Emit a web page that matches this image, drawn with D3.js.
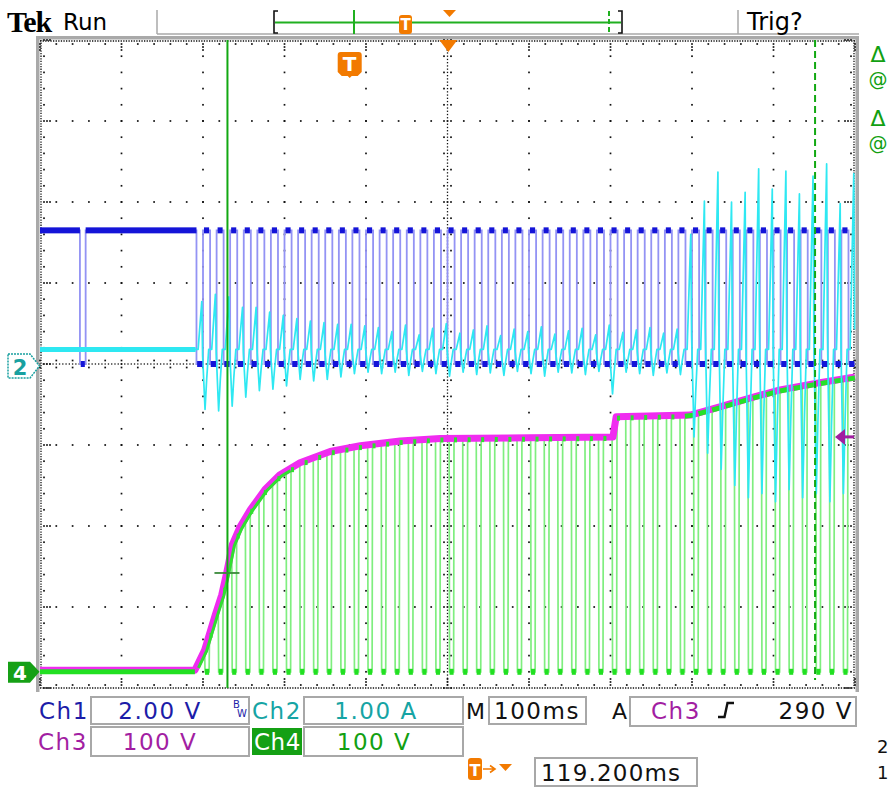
<!DOCTYPE html>
<html><head><meta charset="utf-8">
<script src="https://cdn.jsdelivr.net/npm/d3@7"></script>
<style>body{margin:0;background:#fff}svg{display:block}</style>
</head><body><svg id="c" width="891" height="789"></svg>
<script>
// ---------- DATA ----------
const timeDomain = [0, 1000];               // ms across 10 divisions (100 ms/div)
// Ch3 (DC bus envelope), volts at 100 V/div
const envT = [0, 190, 202, 215, 223, 229, 236, 245, 258, 276, 294, 319, 356, 393, 442, 491, 600, 703, 707, 798, 834, 871, 908, 957, 1000];
const envV = [2, 2, 27, 70, 95, 122, 157, 178, 200, 225, 243, 258, 272, 279, 285, 288, 289, 290, 315, 317, 327, 338, 348, 357, 364];
// switching cycle start times (ms)
const cycleT = [192, 208.7, 225.3, 242, 258.7, 275.3, 292, 308.7, 325.3, 342, 358.7, 375.3, 392, 408.7, 425.3, 442, 458.7, 475.3, 492, 508.7, 525.3, 542, 558.7, 575.3, 592, 608.7, 625.3, 642, 658.7, 675.3, 692, 708.7, 725.3, 742, 758.7, 775.3, 792, 808.7, 825.3, 842, 858.7, 875.3, 892, 908.7, 925.3, 942, 958.7, 975.3, 992];
// Ch2 current spikes per cycle (A)
const ch2Up = [0.77, 0.86, 0.83, 0.70, 0.70, 0.64, 0.60, 0.56, 0.53, 0.51, 0.49, 0.49, 0.47,
  0.45, 0.40, 0.48, 0.36, 0.44, 0.50, 0.38, 0.42, 0.47, 0.35, 0.43, 0.40, 0.46, 0.37, 0.41, 0.44, 0.36, 0.48, 0.39, 0.42, 0.45, 0.38, 0.43,
  1.6, 2.01, 2.37, 2.0, 2.12, 2.41, 2.16, 2.38, 2.1, 2.32, 2.47, 1.98, 2.35];
const ch2Down = [-0.56, -0.58, -0.52, -0.41, -0.33, -0.31, -0.27, -0.19, -0.21, -0.19, -0.16, -0.12, -0.10,
  -0.12, -0.10, -0.14, -0.09, -0.12, -0.15, -0.10, -0.13, -0.11, -0.14, -0.09, -0.12, -0.15, -0.10, -0.11, -0.13, -0.09, -0.37, -0.10, -0.12, -0.14, -0.11, -0.13,
  -0.9, -1.1, -1.3, -1.5, -1.65, -1.6, -1.7, -1.55, -1.65, -1.6, -1.7, -1.6, -1.5];
const ch2Idle = 0.18;            // A
const ch1Levels = [0, 3.3];      // V low / high
const ch1Glitch = [49, 56];      // ms, single low pulse before start
const cursorT = [230, 951];      // ms, solid / dashed cursor
const cursorMarkV = 122;         // V, cross mark on the solid cursor
const trigLevel = 290;           // V
const trigPosT = 501;            // ms, trigger position
const tMarkT = 380;              // ms, T marker
const labelsRow1 = ["Ch1", "2.00 V", "Ch2", "1.00 A", "M", "100ms", "A", "Ch3", "290 V"];
const labelsRow2 = ["Ch3", "100 V", "Ch4", "100 V"];
const delayLabel = "119.200ms";

// ---------- SCALES ----------
const svg = d3.select('#c');
const X0 = 40, X1 = 855, Y0 = 40, Y1 = 688;
const x = d3.scaleLinear().domain(timeDomain).range([X0, X1]);
const y1 = d3.scaleLinear().domain([-8, 8]).range([Y1, Y0]);      // 2 V/div
const y2 = d3.scaleLinear().domain([-4, 4]).range([Y1, Y0]);      // 1 A/div
const y34 = d3.scaleLinear().domain([-20, 780]).range([Y1, Y0]);  // 100 V/div, ground -3.8 div
const env = d3.scaleLinear().domain(envT).range(envV);
const line = d3.line().x(d => x(d[0]));

// ---------- FRAME / GRATICULE ----------
const gray = '#a9a9a9';
svg.append('rect').attr('x', 36).attr('y', 36).attr('width', 823).attr('height', 3.5).attr('fill', gray);
svg.append('rect').attr('x', 36).attr('y', 36).attr('width', 3.5).attr('height', 656).attr('fill', gray);
svg.append('rect').attr('x', 855.5).attr('y', 36).attr('width', 3.5).attr('height', 656).attr('fill', gray);
svg.append('line').attr('x1', 157).attr('x2', 859).attr('y1', 34).attr('y2', 34).attr('stroke', gray).attr('stroke-width', 1.5);
[157, 738].forEach(v => svg.append('line').attr('x1', v).attr('x2', v).attr('y1', 10).attr('y2', 34).attr('stroke', gray).attr('stroke-width', 1.5));

const g = svg.append('g');
const majX = d3.range(11).map(i => X0 + i * (X1 - X0) / 10);
const majY = d3.range(9).map(i => Y0 + i * (Y1 - Y0) / 8);
const minX = d3.range(51).map(i => X0 + i * (X1 - X0) / 50);
const minY = d3.range(41).map(i => Y0 + i * (Y1 - Y0) / 40);
const fineX = d3.range(251).map(i => X0 + i * (X1 - X0) / 250);
const fineY = d3.range(201).map(i => Y0 + i * (Y1 - Y0) / 200);
function dot(px, py, s = 1.7) { g.append('rect').attr('x', px - s / 2).attr('y', py - s / 2).attr('width', s).attr('height', s).attr('fill', '#111'); }
majX.slice(1, 10).forEach((mx, i) => { if (i === 4) return; minY.slice(1, 40).forEach(my => dot(mx, my)); });
majY.slice(1, 8).forEach((my, i) => { if (i === 3) return; minX.slice(1, 50).forEach(mx => dot(mx, my)); });
const xc = majX[5], yc = majY[4];
fineX.forEach(fx => dot(fx, yc, 1.3));
fineY.forEach(fy => dot(xc, fy, 1.3));
minX.forEach(mx => { dot(mx, yc - 3.5); dot(mx, yc + 3.5); });
minY.forEach(my => { dot(xc - 3.5, my); dot(xc + 3.5, my); });
g.append('path').attr('d', `M${X0},${Y0 + 1}H${X1}M${X0},${Y1}H${X1}M${X0 + 1},${Y0}V${Y1}M${X1 - 1},${Y0}V${Y1}`)
  .attr('stroke', '#111').attr('stroke-width', 1.3).attr('stroke-dasharray', '1.3,1.3').attr('fill', 'none');
minX.forEach((mx, i) => { dot(mx, Y0 + 4); dot(mx, Y1 - 3); if (i % 5 === 0) { dot(mx, Y0 + 7); dot(mx, Y0 + 10); dot(mx, Y1 - 6); dot(mx, Y1 - 9); } });
minY.forEach((my, i) => { dot(X0 + 4, my); dot(X1 - 4, my); if (i % 5 === 0) { dot(X0 + 7, my); dot(X0 + 10, my); dot(X1 - 7, my); dot(X1 - 10, my); } });

// ---------- WAVEFORMS ----------
const W = svg.append('g');
const envPts = envT.map((t, i) => [t, envV[i]]);

// Ch4 pulses (green) lines
const ch4Pts = [[0, 0], [cycleT[0] - 2, 0]];
envT.forEach(t => { if (t > cycleT[0] - 2 && t < cycleT[0] + 10) ch4Pts.push([t, env(t)]); });
const groundSegs = [], topSegs = [];
cycleT.forEach((t0, i) => {
  const tf = t0 + 10, tr = t0 + 15.5;
  ch4Pts.push([tf, env(tf)], [tf + 0.5, 0], [tr, 0], [tr + 0.5, env(tr + 0.5)]);
  groundSegs.push([tf + 0.5, Math.min(tr, 1000)]);
  const nf = Math.min(i + 1 < cycleT.length ? cycleT[i + 1] + 10 : 1000, 1000);
  if (tr + 0.5 < 1000) topSegs.push([tr + 0.5, nf]);
});
W.append('path').attr('d', line.y(d => y34(d[1]))(ch4Pts.filter(d => d[0] <= 1000))).attr('fill', 'none')
  .attr('stroke', '#7fee7f').attr('stroke-width', 1.7);

// Ch3 envelope band (magenta)
W.append('path').attr('d', line.y(d => y34(d[1]))(envPts)).attr('fill', 'none')
  .attr('stroke', '#f02cf0').attr('stroke-width', 7).attr('stroke-linejoin', 'round');

// green on top of the band: rise region and late region
const topLine = d3.line().x(d => x(d)).y(d => y34(env(d)) + 1);
W.append('path').attr('d', topLine([192, 196, 202, 208, 215, 223, 229, 236, 245, 258, 276, 294, 305]))
  .attr('fill', 'none').attr('stroke', '#30e030').attr('stroke-width', 3).attr('transform', 'translate(2,0)');
topSegs.filter(s => s[0] > 780).forEach(s => {
  W.append('path').attr('d', topLine([s[0], s[1]])).attr('fill', 'none').attr('stroke', '#28e028').attr('stroke-width', 5);
});
W.append('path').attr('d', line.y(d => y34(d[1]))([[0, 0], [cycleT[0] - 2, 0]])).attr('stroke', '#22e022').attr('stroke-width', 5);
W.selectAll('.gb').data(groundSegs).enter().append('rect')
  .attr('x', d => x(d[0])).attr('width', d => Math.max(0, x(d[1]) - x(d[0])))
  .attr('y', y34(0) - 3).attr('height', 6).attr('fill', '#22e022');
W.selectAll('.gt').data(topSegs.filter(s => s[0] <= 780)).enter().append('rect')
  .attr('x', d => x(d[0])).attr('width', 3).attr('y', d => y34(env(d[0])) - 1).attr('height', 5)
  .attr('fill', '#30e030');

// Ch1 square wave (blue)
const [lo, hi] = ch1Levels;
const ch1Pts = [[0, hi], [ch1Glitch[0], hi], [ch1Glitch[0], lo], [ch1Glitch[1], lo], [ch1Glitch[1], hi], [cycleT[0], hi]];
const lowSegs = [], highSegs = [[0, ch1Glitch[0]], [ch1Glitch[1], cycleT[0]]];
lowSegs.push([ch1Glitch[0] + 1, ch1Glitch[1] - 1]);
cycleT.forEach((t0, i) => {
  const te = Math.min(t0 + 8, 1000);
  ch1Pts.push([t0, hi], [t0, lo], [te, lo]);
  lowSegs.push([t0 + 0.8, te - 0.8]);
  if (te < 1000) {
    const tn = i + 1 < cycleT.length ? cycleT[i + 1] : 1000;
    ch1Pts.push([te, hi], [tn, hi]);
    highSegs.push([te + 1.2, tn - 1.2]);
  }
});
W.append('path').attr('d', line.y(d => y1(d[1]))(ch1Pts)).attr('fill', 'none')
  .attr('stroke', '#9393f4').attr('stroke-width', 1.8);

// Ch2 current (cyan)
const ch2Pts = [[0, ch2Idle]];
cycleT.forEach((t0, i) => {
  ch2Pts.push([t0 + 2, ch2Idle], [t0 + 6.5, ch2Up[i]], [t0 + 7.5, (ch2Up[i] + ch2Down[i]) / 2], [t0 + 10.5, ch2Down[i]], [t0 + 12.5, (ch2Down[i] + ch2Idle) / 2], [t0 + 15, ch2Idle]);
});
W.append('path').attr('d', line.y(d => y2(d[1]))(ch2Pts.filter(d => d[0] <= 1000))).attr('fill', 'none')
  .attr('stroke', '#2ee8f2').attr('stroke-width', 1.7).attr('stroke-linejoin', 'round');
W.append('path').attr('d', line.y(d => y2(d[1]))([[0, ch2Idle], [cycleT[0] - 1, ch2Idle]])).attr('stroke', '#2ee8f2').attr('stroke-width', 5);

// Ch1 dense sample blobs
W.selectAll('.hb').data(highSegs).enter().append('rect')
  .attr('x', d => x(d[0])).attr('width', d => Math.max(0, x(d[1]) - x(d[0])))
  .attr('y', y1(hi) - 3).attr('height', 6).attr('fill', '#1414d8');
W.selectAll('.lb').data(lowSegs).enter().append('rect')
  .attr('x', d => x(d[0])).attr('width', d => Math.max(0, x(d[1]) - x(d[0])))
  .attr('y', y1(lo) - 3).attr('height', 6).attr('fill', '#1414d8');

// ---------- CURSORS / MARKERS ----------
const cg = '#12a812';
svg.append('line').attr('x1', x(cursorT[0])).attr('x2', x(cursorT[0])).attr('y1', Y0).attr('y2', Y1).attr('stroke', cg).attr('stroke-width', 2);
svg.append('line').attr('x1', x(cursorT[1])).attr('x2', x(cursorT[1])).attr('y1', Y0).attr('y2', Y1 - 8).attr('stroke', cg).attr('stroke-width', 2).attr('stroke-dasharray', '7,4');
svg.append('line').attr('x1', x(cursorT[0]) - 13).attr('x2', x(cursorT[0]) + 12).attr('y1', y34(cursorMarkV)).attr('y2', y34(cursorMarkV)).attr('stroke', '#3a8a3a').attr('stroke-width', 1.8);

const orange = '#f27a00';
svg.append('path').attr('d', `M${x(trigPosT) - 9},${Y0}L${x(trigPosT) + 9},${Y0}L${x(trigPosT)},${Y0 + 12}Z`).attr('fill', orange);
function tMarker(cx, top, w, h, fs) {
  const gg = svg.append('g');
  gg.append('path').attr('d', `M${cx - w / 2 + 3},${top}H${cx + w / 2 - 3}Q${cx + w / 2},${top} ${cx + w / 2},${top + 3}V${top + h - 6}L${cx + w / 2 - 4},${top + h - 2}H${cx + 2}L${cx},${top + h}L${cx - 2},${top + h - 2}H${cx - w / 2 + 4}L${cx - w / 2},${top + h - 6}V${top + 3}Q${cx - w / 2},${top} ${cx - w / 2 + 3},${top}Z`).attr('fill', orange);
  gg.append('text').attr('x', cx).attr('y', top + h * 0.72).attr('text-anchor', 'middle').attr('fill', '#fff')
    .attr('font-family', 'DejaVu Sans').attr('font-weight', 'bold').attr('font-size', fs).text('T');
}
tMarker(x(tMarkT), 52, 24, 26, 20);

svg.append('path').attr('d', 'M8,354H30L39.5,366L30,378H8Z').attr('fill', '#fff').attr('stroke', '#18a0a0').attr('stroke-width', 1.5).attr('stroke-dasharray', '2,1');
svg.append('text').attr('x', 20).attr('y', 375).attr('text-anchor', 'middle').attr('fill', '#18a0a0').attr('font-family', 'DejaVu Sans').attr('font-weight', 'bold').attr('font-size', 21).text('2');
svg.append('path').attr('d', `M8,${y34(0) - 10}H30L39.5,${y34(0)}L30,${y34(0) + 11}H8Z`).attr('fill', '#16a016');
svg.append('text').attr('x', 20).attr('y', y34(0) + 8).attr('text-anchor', 'middle').attr('fill', '#fff').attr('font-family', 'DejaVu Sans').attr('font-weight', 'bold').attr('font-size', 20).text('4');
const ty = y34(trigLevel);
svg.append('path').attr('d', `M835,${ty}L845,${ty - 8}V${ty + 8}Z`).attr('fill', '#a01ea0');
svg.append('line').attr('x1', 844).attr('x2', 854).attr('y1', ty).attr('y2', ty).attr('stroke', '#a01ea0').attr('stroke-width', 3);

[[62, 'Δ'], [86, '@'], [126, 'Δ'], [150, '@']].forEach(([yy, s]) =>
  svg.append('text').attr('x', 878).attr('y', yy).attr('text-anchor', 'middle').attr('fill', '#12a012')
    .attr('font-family', 'DejaVu Sans').attr('font-size', s === 'Δ' ? 22 : 19).text(s));

// ---------- HEADER ----------
svg.append('text').attr('x', 7).attr('y', 32).attr('font-family', 'Liberation Serif').attr('font-weight', 'bold').attr('font-size', 30).attr('letter-spacing', -1).attr('fill', '#000').text('Tek');
svg.append('text').attr('x', 63).attr('y', 30).attr('font-family', 'DejaVu Sans').attr('font-size', 23).attr('fill', '#000').text('Run');
svg.append('text').attr('x', 747).attr('y', 30).attr('font-family', 'DejaVu Sans').attr('font-size', 24).attr('fill', '#000').text('Trig?');
svg.append('line').attr('x1', 275).attr('x2', 621).attr('y1', 22.5).attr('y2', 22.5).attr('stroke', '#20b020').attr('stroke-width', 2);
svg.append('path').attr('d', 'M278,11H274V33H278').attr('fill', 'none').attr('stroke', '#111').attr('stroke-width', 1.6);
svg.append('path').attr('d', 'M618,11H622V33H618').attr('fill', 'none').attr('stroke', '#111').attr('stroke-width', 1.6);
svg.append('line').attr('x1', 354).attr('x2', 354).attr('y1', 10).attr('y2', 34).attr('stroke', '#20b020').attr('stroke-width', 2);
svg.append('line').attr('x1', 609).attr('x2', 609).attr('y1', 11).attr('y2', 33).attr('stroke', '#20b020').attr('stroke-width', 2).attr('stroke-dasharray', '5,3');
svg.append('path').attr('d', 'M443,10H456L449.5,17Z').attr('fill', orange);
svg.append('rect').attr('x', 399).attr('y', 15).attr('width', 13).attr('height', 19).attr('rx', 3).attr('fill', orange);
svg.append('text').attr('x', 405.5).attr('y', 30).attr('text-anchor', 'middle').attr('fill', '#fff').attr('font-family', 'DejaVu Sans').attr('font-weight', 'bold').attr('font-size', 15).text('T');

// ---------- BOTTOM READOUT ----------
const F = 'DejaVu Sans';
function box(x0, y0, w, h) {
  svg.append('rect').attr('x', x0).attr('y', y0).attr('width', w).attr('height', h).attr('fill', '#fff').attr('stroke', '#a8a8a8').attr('stroke-width', 2);
}
function txt(xx, yy, s, col, anchor = 'start', fs = 23, ls = 1.5) {
  return svg.append('text').attr('x', xx).attr('y', yy).attr('text-anchor', anchor).attr('fill', col)
    .attr('font-family', F).attr('font-size', fs).attr('letter-spacing', ls).text(s);
}
const c1 = '#1c1ca8', c2 = '#16a4a4', c3 = '#a21ea2', c4 = '#12a012';
box(91, 697, 158, 27); box(304, 697, 159, 27); box(489, 697, 97, 27); box(630, 697, 226, 29);
box(91, 727, 158, 29); box(304, 727, 159, 29); box(535, 758, 162, 28);
txt(39, 719, labelsRow1[0], c1);
txt(160, 719, labelsRow1[1], c1, 'middle');
txt(233, 708, 'B', c1, 'start', 10, 0); txt(237, 717, 'W', c1, 'start', 10, 0);
txt(252, 719, labelsRow1[2], c2);
txt(376, 719, labelsRow1[3], c2, 'middle');
txt(466, 719, labelsRow1[4], '#111', 'start', 22, 0);
txt(537, 719, labelsRow1[5], '#111', 'middle');
txt(612, 719, labelsRow1[6], '#111', 'start', 22, 0);
txt(651, 719, labelsRow1[7], c3);
svg.append('path').attr('d', 'M718,717H724.5L727.5,703H734').attr('fill', 'none').attr('stroke', '#111').attr('stroke-width', 2.4);
txt(853, 719, labelsRow1[8], '#111', 'end');
txt(38, 750, labelsRow2[0], c3);
txt(160, 750, labelsRow2[1], c3, 'middle');
svg.append('rect').attr('x', 252).attr('y', 728).attr('width', 50).attr('height', 27).attr('fill', '#14a014');
txt(254, 750, labelsRow2[2], '#fff', 'start', 23, 0.5);
txt(374, 750, labelsRow2[3], c4, 'middle');
svg.append('rect').attr('x', 468).attr('y', 758).attr('width', 14).attr('height', 22).attr('rx', 3).attr('fill', orange);
svg.append('text').attr('x', 475).attr('y', 776).attr('text-anchor', 'middle').attr('fill', '#fff').attr('font-family', F).attr('font-weight', 'bold').attr('font-size', 16).text('T');
svg.append('path').attr('d', 'M483,769H494M490,765.5L495,769L490,772.5').attr('fill', 'none').attr('stroke', orange).attr('stroke-width', 1.6);
svg.append('path').attr('d', 'M499,764H512L505.5,771Z').attr('fill', orange);
txt(541, 781, delayLabel, '#111', 'start', 23, 1.2);
txt(877, 753, '2', '#111', 'start', 18, 0);
txt(877, 779, '1', '#111', 'start', 18, 0);
</script></body></html>
